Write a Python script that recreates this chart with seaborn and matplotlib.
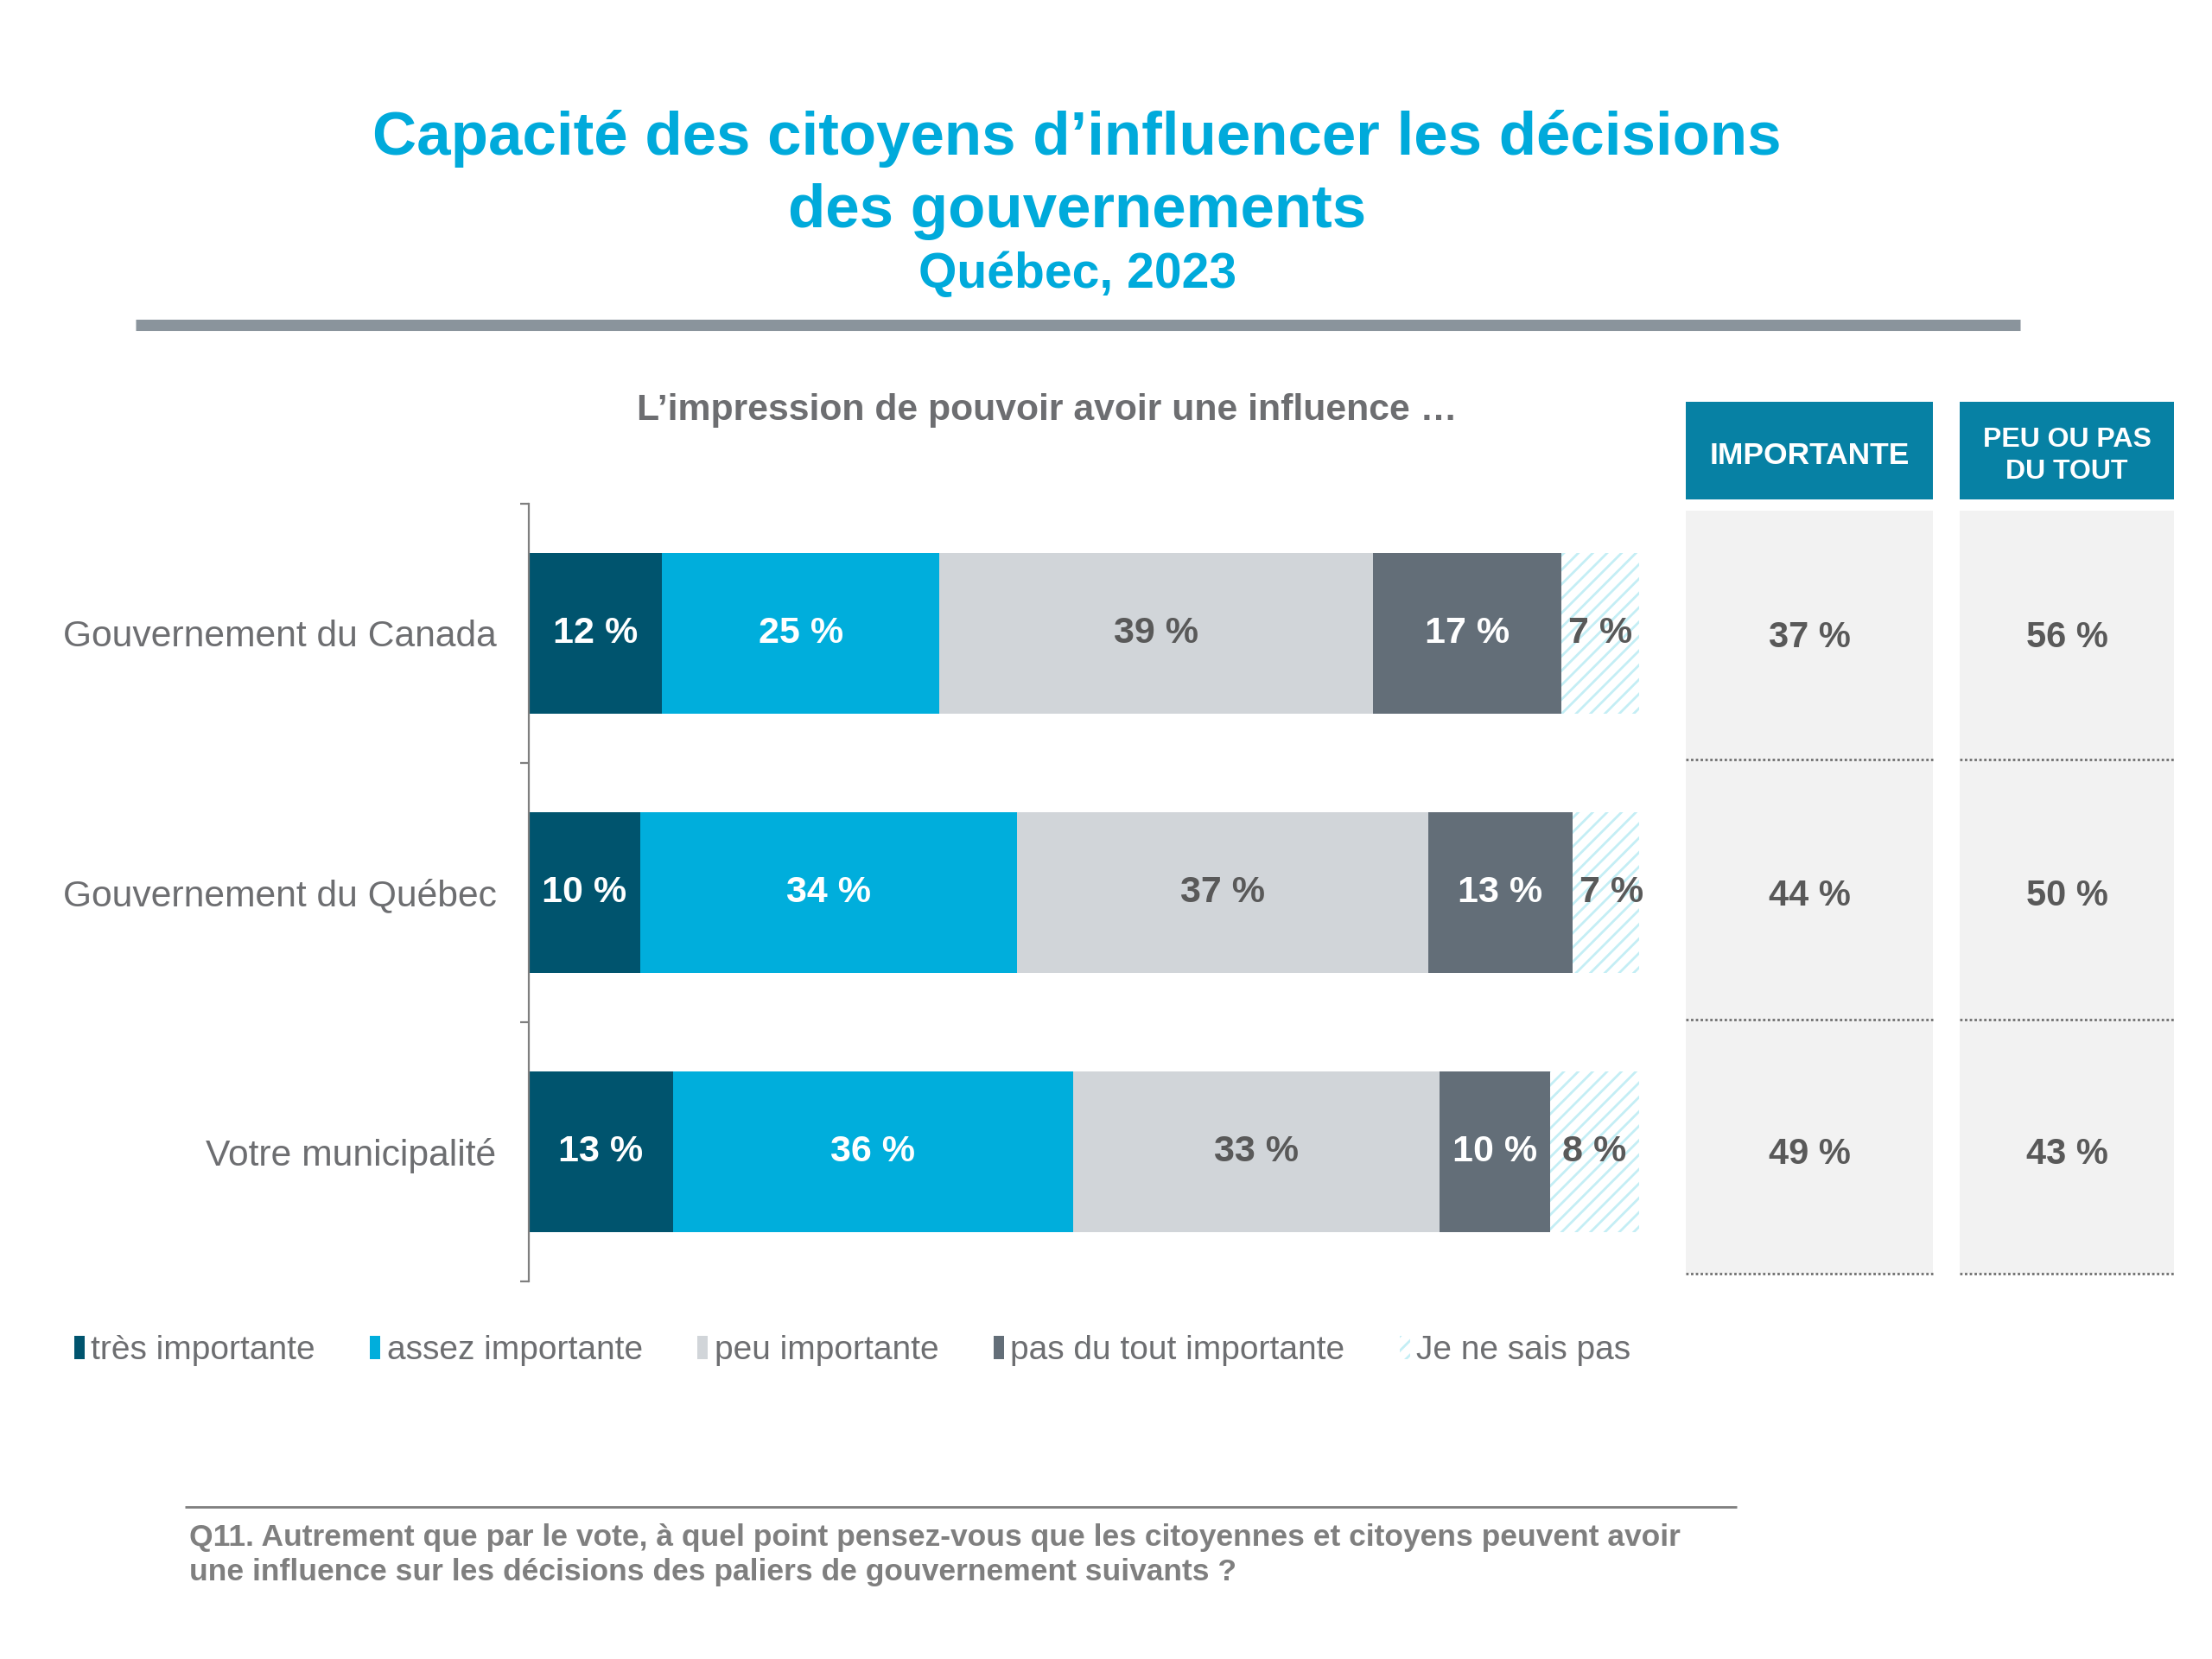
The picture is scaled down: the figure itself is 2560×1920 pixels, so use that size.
import matplotlib
matplotlib.use("Agg")
import matplotlib.pyplot as plt
import seaborn as sns
import pandas as pd
from matplotlib.patches import Patch
from matplotlib.lines import Line2D

# data
categories = ["Gouvernement du Canada", "Gouvernement du Québec", "Votre municipalité"]
segments = ["très importante", "assez importante", "peu importante",
            "pas du tout importante", "Je ne sais pas"]
tres = [12, 10, 13]
assez = [25, 34, 36]
peu = [39, 37, 33]
pas_du_tout = [17, 13, 10]
nsp = [7, 7, 8]
importante = [37, 44, 49]
peu_ou_pas = [56, 50, 43]

seg_colors = ["#00546E", "#00AEDC", "#D1D5D9", "#636E78", "white"]
label_colors = ["white", "white", "#595959", "white", "#595959"]
hatch_color = "#C4EEF5"
grey_txt = "#6D6E71"
title_blue = "#00AADB"
header_blue = "#0781A4"

sns.set_style("white")
plt.rcParams["font.family"] = ["Liberation Sans", "DejaVu Sans"]
plt.rcParams["hatch.linewidth"] = 2.0

W, H = 2560, 1920
fig = plt.figure(figsize=(25.6, 19.2), dpi=100)


def px_axes(x0, y0, x1, y1):
    # axes from pixel box (top-left origin)
    return fig.add_axes([x0 / W, 1 - y1 / H, (x1 - x0) / W, (y1 - y0) / H])


# titles
fig.text(0.487, 1 - 160 / H, "Capacité des citoyens d’influencer les décisions",
         ha="center", va="center", fontsize=51, fontweight="bold", color=title_blue)
fig.text(0.487, 1 - 245 / H, "des gouvernements",
         ha="center", va="center", fontsize=51, fontweight="bold", color=title_blue)
fig.text(0.487, 1 - 318 / H, "Québec, 2023",
         ha="center", va="center", fontsize=41, fontweight="bold", color=title_blue)
fig.add_artist(Line2D([157 / W, 2338 / W], [1 - 376 / H] * 2, transform=fig.transFigure,
                      lw=9.4, color="#8A949C", solid_capstyle="butt"))
fig.text(1212 / W, 1 - 475 / H, "L’impression de pouvoir avoir une influence …",
         ha="center", va="center", fontsize=30.8, fontweight="bold", color=grey_txt)

# stacked bars
df = pd.DataFrame({"categorie": categories, segments[0]: tres, segments[1]: assez,
                   segments[2]: peu, segments[3]: pas_du_tout, segments[4]: nsp})
cum = df[segments].cumsum(axis=1)

ax = px_axes(612, 583, 1897, 1483)
for i in range(len(segments) - 1, -1, -1):
    kw = dict(hatch="//", edgecolor=hatch_color) if i == 4 else {}
    sns.barplot(x=cum[segments[i]], y=df["categorie"], color=seg_colors[i],
                saturation=1, width=0.62, linewidth=0, errorbar=None, ax=ax, **kw)

for i, seg in enumerate(segments):
    starts = cum[seg] - df[seg]
    for j, v in enumerate(df[seg]):
        ax.text(starts[j] + v / 2, j, f"{v} %", ha="center", va="center",
                fontsize=31, fontweight="bold", color=label_colors[i])

ax.set_xlim(0, 100)
ax.set_ylim(2.5, -0.5)
ax.set_xlabel("")
ax.set_ylabel("")
ax.set_xticks([])
sns.despine(ax=ax, top=True, right=True, bottom=True)
ax.spines["left"].set_color("#7F7F7F")
ax.spines["left"].set_linewidth(1.6)
ax.set_yticks([-0.5, 0.5, 1.5, 2.5], minor=True)
ax.tick_params(axis="y", which="major", left=False, length=0, pad=27,
               labelsize=30.7, labelcolor=grey_txt)
ax.tick_params(axis="y", which="minor", left=True, length=7, width=1.6,
               color="#7F7F7F", direction="out")
ax.set_facecolor("white")

# right-hand summary columns
columns = [("IMPORTANTE", importante, 1951, 2237, 25.5),
           ("PEU OU PAS\nDU TOUT", peu_ou_pas, 2268, 2516, 23)]
for head, vals, x0, x1, fs in columns:
    hax = px_axes(x0, 465, x1, 578)
    hax.set_facecolor(header_blue)
    hax.set_xticks([])
    hax.set_yticks([])
    for s in hax.spines.values():
        s.set_visible(False)
    hax.text(0.5, 0.45, head, ha="center", va="center", fontsize=fs,
             fontweight="bold", color="white", linespacing=1.3, transform=hax.transAxes)

    tax = px_axes(x0, 591, x1, 1474)
    tax.set_facecolor("#F2F2F2")
    tax.set_xlim(0, 1)
    tax.set_ylim(2.5, -0.5)
    tax.set_xticks([])
    tax.set_yticks([])
    for s in tax.spines.values():
        s.set_visible(False)
    for j, v in enumerate(vals):
        tax.text(0.5, j + 0.015 * j, f"{v} %", ha="center", va="center", fontsize=30,
                 fontweight="bold", color="#595959")
    for b in [0.48, 1.5, 2.5]:
        tax.axhline(b, ls=(0, (1, 1)), color="#6F6F6F", lw=2, clip_on=False)

# legend
handles = [Patch(facecolor=c, edgecolor="none") for c in seg_colors[:4]]
handles.append(Patch(facecolor="white", edgecolor=hatch_color, hatch="//", lw=0))
leg = fig.legend(handles, segments, loc="center left", ncol=5,
                 bbox_to_anchor=(86 / W, 1 - 1563 / H), frameon=False,
                 fontsize=28, handlelength=0.3, handleheight=0.7,
                 handletextpad=0.2, columnspacing=1.63, borderpad=0, borderaxespad=0)
for t in leg.get_texts():
    t.set_color(grey_txt)

# footnote
fig.add_artist(Line2D([214 / W, 2010 / W], [1 - 1744 / H] * 2, transform=fig.transFigure,
                      lw=2, color="#7F7F7F", solid_capstyle="butt"))
fig.text(219 / W, 1 - 1779 / H,
         "Q11. Autrement que par le vote, à quel point pensez-vous que les citoyennes et citoyens peuvent avoir",
         ha="left", va="center", fontsize=25.5, fontweight="bold", color="#7F7F7F")
fig.text(219 / W, 1 - 1820 / H,
         "une influence sur les décisions des paliers de gouvernement suivants ?",
         ha="left", va="center", fontsize=25.5, fontweight="bold", color="#7F7F7F")

fig.savefig("out.png", dpi=100, facecolor="white")
